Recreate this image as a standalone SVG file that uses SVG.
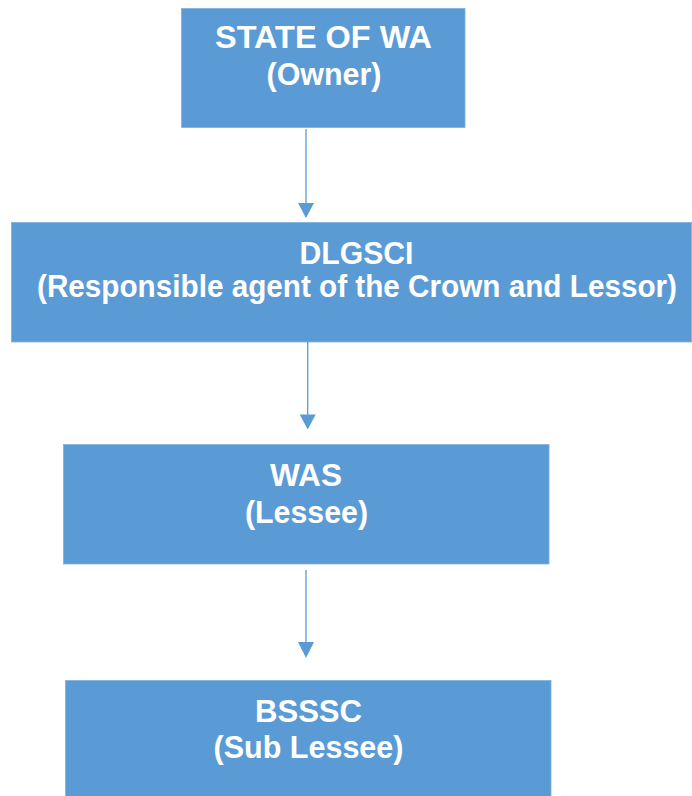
<svg xmlns="http://www.w3.org/2000/svg" width="692" height="796" viewBox="0 0 692 796">
<style>
.box{fill:#5B9BD5;stroke:#7FB0DF;stroke-width:0.8}
.lbl{font-family:"Liberation Sans",Arial,sans-serif;font-weight:bold;font-size:30.5px;fill:#FFFFFF;text-anchor:middle}
.conn{stroke:#5B9BD5;stroke-width:1.3;fill:none}
.head{fill:#5B9BD5}
</style>
<rect width="692" height="796" fill="#FFFFFF"/>
<g id="node-state">
<rect class="box" x="181.5" y="8.5" width="283.5" height="119"/>
<text class="lbl" x="323.5" y="48" textLength="217" lengthAdjust="spacingAndGlyphs">STATE OF WA</text>
<text class="lbl" x="324" y="85" textLength="115" lengthAdjust="spacingAndGlyphs">(Owner)</text>
</g>
<g id="node-dlgsci">
<rect class="box" x="11.5" y="222.5" width="680" height="119.5"/>
<text class="lbl" x="356.5" y="263.5" textLength="114" lengthAdjust="spacingAndGlyphs">DLGSCI</text>
<text class="lbl" x="357" y="297" font-size="30" textLength="640" lengthAdjust="spacingAndGlyphs">(Responsible agent of the Crown and Lessor)</text>
</g>
<g id="node-was">
<rect class="box" x="63.5" y="444.5" width="485.5" height="119.5"/>
<text class="lbl" x="306" y="486" textLength="72" lengthAdjust="spacingAndGlyphs">WAS</text>
<text class="lbl" x="306.5" y="523" textLength="123" lengthAdjust="spacingAndGlyphs">(Lessee)</text>
</g>
<g id="node-bsssc">
<rect class="box" x="65.5" y="680.5" width="485.5" height="118"/>
<text class="lbl" x="308.5" y="721.5" textLength="107" lengthAdjust="spacingAndGlyphs">BSSSC</text>
<text class="lbl" x="308.5" y="758" textLength="190" lengthAdjust="spacingAndGlyphs">(Sub Lessee)</text>
</g>
<g id="connectors">
<line class="conn" x1="306" y1="129" x2="306" y2="204"/>
<polygon class="head" points="298,203 314,203 306,218"/>
<line class="conn" x1="307.7" y1="342" x2="307.7" y2="416"/>
<polygon class="head" points="299.7,414.5 315.7,414.5 307.7,429.5"/>
<line class="conn" x1="306" y1="570" x2="306" y2="643"/>
<polygon class="head" points="298,642 314,642 306,658"/>
</g>
</svg>
